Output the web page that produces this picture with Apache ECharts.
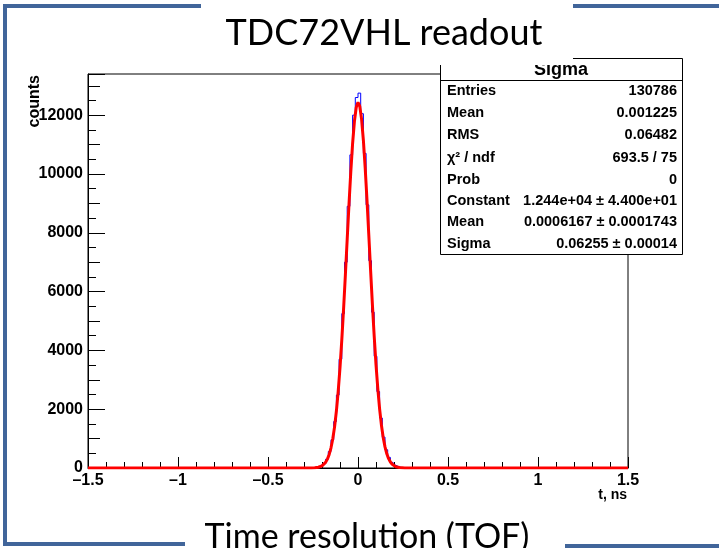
<!DOCTYPE html>
<html>
<head>
<meta charset="utf-8">
<script src="https://cdn.jsdelivr.net/npm/echarts@6/dist/echarts.min.js"></script>
<style>html,body{margin:0;padding:0;background:#fff}#c{width:719px;height:548px}</style>
</head>
<body>
<div id="c"></div>
<script>
// ---- data ----
var xTicks = [-1.5, -1, -0.5, 0, 0.5, 1, 1.5];
var yTicks = [0, 2000, 4000, 6000, 8000, 10000, 12000];
// histogram bin centres (bin width 0.015 ns) and counts
var histT = [-0.2925,-0.2775,-0.2625,-0.2475,-0.2325,-0.2175,-0.2025,-0.1875,-0.1725,-0.1575,
  -0.1425,-0.1275,-0.1125,-0.0975,-0.0825,-0.0675,-0.0525,-0.0375,-0.0225,-0.0075,
  0.0075,0.0225,0.0375,0.0525,0.0675,0.0825,0.0975,0.1125,0.1275,0.1425,
  0.1575,0.1725,0.1875,0.2025,0.2175,0.2325,0.2475,0.2625,0.2775,0.2925];
var histCounts = [0,0,2,5,14,30,70,150,300,560,
  960,1580,2480,3700,5250,7000,8900,10650,12000,12600,
  12750,12050,10700,8950,7050,5300,3800,2600,1700,1050,
  620,360,190,95,45,20,8,3,1,0];
// fitted curve (red)
var fitT = [-1.5,-0.30,-0.28,-0.26,-0.24,-0.23,-0.22,-0.21,-0.20,-0.19,-0.18,-0.17,-0.16,-0.15,-0.14,-0.13,-0.12,-0.11,-0.10,
  -0.09,-0.08,-0.07,-0.06,-0.05,-0.04,-0.03,-0.02,-0.01,0.00,0.01,0.02,0.03,0.04,0.05,0.06,0.07,0.08,0.09,
  0.10,0.11,0.12,0.13,0.14,0.15,0.16,0.17,0.18,0.19,0.20,0.21,0.22,0.23,0.24,0.26,0.28,0.30,1.5];
var fitCounts = [0,0,1,2,8,14,25,43,73,120,193,302,461,686,995,1407,1938,2606,3414,
  4358,5424,6580,7780,8970,10077,11036,11783,12262,12439,12300,11856,11138,10200,9107,7925,6723,5559,4480,
  3519,2696,2011,1464,1039,718,484,318,204,127,77,45,26,15,8,2,1,0,0];
var statLabels = ['Entries','Mean','RMS','\u03c7\u00b2 / ndf','Prob','Constant','Mean','Sigma'];
var statValues = ['130786','0.001225','0.06482','693.5 / 75','0','1.244e+04 \u00b1 4.400e+01','0.0006167 \u00b1 0.0001743','0.06255 \u00b1 0.00014'];
var statTitle = 'Sigma';
var titleText = 'TDC72VHL readout';
var footText = 'Time resolution (TOF)';
var xName = 't, ns';
var yName = 'counts';

// ---- build ----
var histData = [[-1.5, 0]];
for (var i = 0; i < histT.length; i++) histData.push([histT[i], histCounts[i]]);
histData.push([1.5, 0]);
var fitData = fitT.map(function (t, i) { return [t, fitCounts[i]]; });

var narrow = "'Liberation Sans Narrow','Arial Narrow','Liberation Sans',Arial,sans-serif";
var sans = "'Liberation Sans',Arial,sans-serif";
var slideFont = "Lato,'Open Sans',sans-serif";
var frameBlue = '#41659a';

function xAxisDef(interval, tickLen, labels) {
  return {
    type: 'value', min: -1.5, max: 1.5, interval: interval, gridIndex: 0, position: 'bottom', offset: 0,
    axisLine: { show: labels, onZero: false, lineStyle: { color: '#000', width: 1 } },
    axisTick: { show: true, inside: true, length: tickLen, lineStyle: { color: '#000', width: 1 } },
    axisLabel: labels ? {
      show: true, margin: 5, color: '#000', fontFamily: narrow, fontWeight: 'bold', fontSize: 16,
      formatter: function (v) { var s = String(Math.round(v * 10) / 10); return s.replace('-', '\u2013'); }
    } : { show: false },
    splitLine: { show: false }
  };
}
function yAxisDef(interval, tickLen, labels) {
  return {
    type: 'value', min: 0, max: 13400, interval: interval, gridIndex: 0, position: 'left', offset: 0,
    axisLine: { show: labels, onZero: false, lineStyle: { color: '#000', width: 1 } },
    axisTick: { show: true, inside: true, length: tickLen, lineStyle: { color: '#000', width: 1 } },
    axisLabel: labels ? {
      show: true, margin: 5, color: '#000', fontFamily: narrow, fontWeight: 'bold', fontSize: 16,
      formatter: function (v) { return yTicks.indexOf(v) >= 0 ? String(v) : ''; }
    } : { show: false },
    splitLine: { show: false }
  };
}

var rowY = [91, 113, 135, 158, 180, 201, 222, 244];
var graphics = [];
// stats box
graphics.push({ type: 'rect', shape: { x: 440.5, y: 58.5, width: 242, height: 196 }, style: { fill: '#fff', stroke: '#000', lineWidth: 1 }, z: 100 });
graphics.push({ type: 'line', shape: { x1: 440, y1: 80.5, x2: 682, y2: 80.5 }, style: { stroke: '#000', lineWidth: 1 }, z: 101 });
graphics.push({ type: 'text', x: 561, y: 70, style: { text: statTitle, font: 'bold 18px ' + sans, fill: '#000', textAlign: 'center', textVerticalAlign: 'middle' }, z: 101 });
for (var r = 0; r < statLabels.length; r++) {
  graphics.push({ type: 'text', x: 447, y: rowY[r], style: { text: statLabels[r], font: 'bold 14.5px ' + sans, fill: '#000', textAlign: 'left', textVerticalAlign: 'middle' }, z: 101 });
  graphics.push({ type: 'text', x: 677, y: rowY[r], style: { text: statValues[r], font: 'bold 14.5px ' + sans, fill: '#000', textAlign: 'right', textVerticalAlign: 'middle' }, z: 101 });
}
// slide title box (white, covers top of stats box)
graphics.push({ type: 'rect', shape: { x: 201, y: 0, width: 372, height: 65 }, style: { fill: '#fff' }, z: 110 });
graphics.push({ type: 'text', x: 384, y: 33, style: { text: titleText, font: '36px ' + slideFont, fill: '#000', textAlign: 'center', textVerticalAlign: 'middle' }, z: 111 });
// slide footer
graphics.push({ type: 'rect', shape: { x: 185, y: 505, width: 380, height: 43 }, style: { fill: '#fff' }, z: 110 });
graphics.push({ type: 'text', x: 367, y: 537, style: { text: footText, font: '34px ' + slideFont, fill: '#000', textAlign: 'center', textVerticalAlign: 'middle' }, z: 111 });
// slide frame
graphics.push({ type: 'polyline', shape: { points: [[201, 6], [5, 6], [5, 544], [185, 544]] }, style: { stroke: frameBlue, lineWidth: 4, fill: null }, z: 120 });
graphics.push({ type: 'line', shape: { x1: 573, y1: 6, x2: 719, y2: 6 }, style: { stroke: frameBlue, lineWidth: 4 }, z: 120 });
graphics.push({ type: 'line', shape: { x1: 565, y1: 546, x2: 719, y2: 546 }, style: { stroke: frameBlue, lineWidth: 4 }, z: 120 });
// axis titles
graphics.push({ type: 'text', x: 627, y: 495, style: { text: xName, font: 'bold 14px ' + narrow, fill: '#000', textAlign: 'right', textVerticalAlign: 'middle' }, z: 101 });
graphics.push({ type: 'text', x: 35, y: 75, rotation: Math.PI / 2, style: { text: yName, font: 'bold 16px ' + narrow, fill: '#000', textAlign: 'right', textVerticalAlign: 'middle' }, z: 101 });

var chart = echarts.init(document.getElementById('c'), null, { renderer: 'canvas' });
chart.setOption({
  animation: false,
  backgroundColor: '#fff',
  grid: { left: 88, top: 74, width: 540, height: 394, show: true, borderColor: '#000', borderWidth: 1, backgroundColor: 'transparent' },
  xAxis: [xAxisDef(0.5, 11, true), xAxisDef(0.1, 6, false)],
  yAxis: [yAxisDef(2000, 17, true), yAxisDef(1000, 12, false), yAxisDef(500, 8, false)],
  series: [
    { type: 'line', name: 'hist', xAxisIndex: 0, yAxisIndex: 0, data: histData, step: 'middle', showSymbol: false, symbol: 'none',
      lineStyle: { color: '#0000ff', width: 1 }, z: 2 },
    { type: 'line', name: 'fit', xAxisIndex: 0, yAxisIndex: 0, data: fitData, showSymbol: false, symbol: 'none',
      lineStyle: { color: '#ff0000', width: 3 }, z: 3 }
  ],
  graphic: graphics
});
</script>
</body>
</html>
